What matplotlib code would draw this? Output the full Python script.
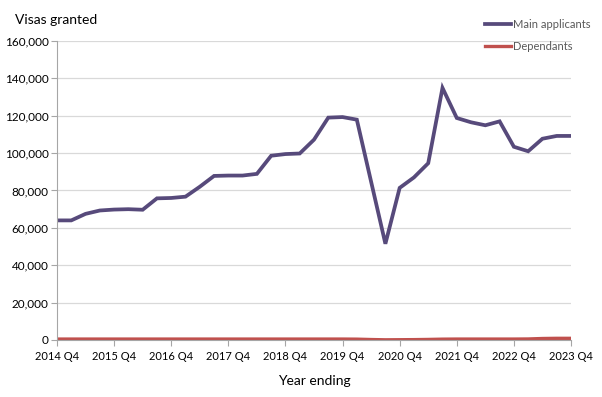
import matplotlib.pyplot as plt
import numpy as np

plt.rcParams['font.family'] = ['Lato', 'DejaVu Sans']

quarters = ["2014 Q4", "2015 Q4", "2016 Q4", "2017 Q4", "2018 Q4",
            "2019 Q4", "2020 Q4", "2021 Q4", "2022 Q4", "2023 Q4"]

# quarterly values, year ending 2014 Q4 .. 2023 Q4
main_applicants = [64000, 64000, 67500, 69300, 69800, 70000, 69700, 75800,
                   76000, 76700, 82000, 87800, 88000, 88000, 88900, 98600,
                   99500, 99800, 107200, 119000, 119300, 117900, 84700, 51500,
                   81400, 87000, 94600, 134900, 118800, 116500, 114900, 117000,
                   103400, 101000, 107700, 109200, 109200]
dependants = [500, 500, 500, 500, 500, 500, 500, 500,
              500, 500, 500, 500, 500, 500, 500, 500,
              500, 500, 500, 500, 500, 450, 250, 100,
              150, 200, 300, 450, 500, 500, 500, 500,
              500, 550, 800, 900, 900]

x = np.arange(len(main_applicants))

fig = plt.figure(figsize=(6.02, 3.97), dpi=100)
ax = fig.add_axes([57/602, 57/397, 514/602, 299/397])

ax.plot(x, main_applicants, color="#574a7b", lw=2.7, label="Main applicants", solid_joinstyle="miter")
ax.plot(x, dependants, color="#c0504d", lw=2.4, label="Dependants")

ax.set_xlim(0, len(x) - 1)
ax.set_ylim(0, 160000)
ax.set_yticks(np.arange(0, 160001, 20000))
ax.set_yticklabels([f"{v:,}" for v in range(0, 160001, 20000)])
ax.set_xticks(np.arange(0, len(x), 4))
ax.set_xticklabels(quarters)
ax.grid(axis="y", color="#d9d9d9", lw=0.9)
ax.set_axisbelow(True)

for s in ["top", "right"]:
    ax.spines[s].set_visible(False)
ax.spines["left"].set_color("#a6a6a6")
ax.spines["bottom"].set_color("#a6a6a6")
ax.tick_params(axis="both", colors="#a6a6a6", labelcolor="black", length=4)
ax.tick_params(axis="y", pad=2, labelsize=8.5)
ax.tick_params(axis="x", pad=4, labelsize=8)

ax.set_xlabel("Year ending", fontsize=10, labelpad=9)
fig.text(15/602, 1 - 20/397, "Visas granted", fontsize=10, va="center", ha="left")

ax.legend(loc="upper right", bbox_to_anchor=(600/602, 1 - 9/397), bbox_transform=fig.transFigure,
          frameon=False, fontsize=8, handlelength=2.4, handletextpad=0.1, labelspacing=0.95,
          labelcolor="#595959")

plt.savefig("out.png", dpi=100)
